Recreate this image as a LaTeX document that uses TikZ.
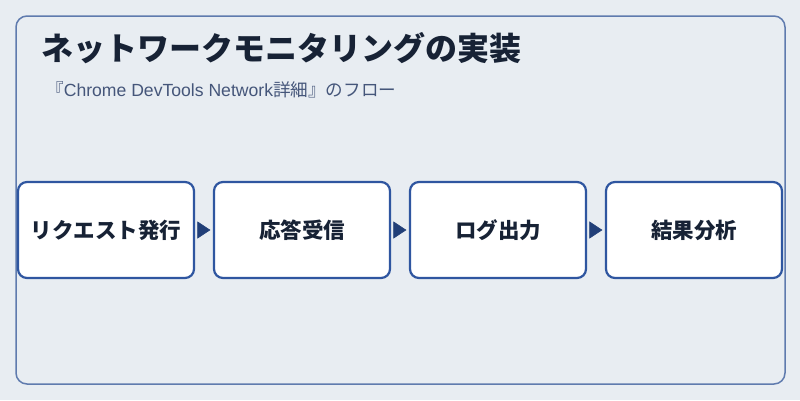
\documentclass[tikz,border=0pt]{standalone}
\usepackage{fontspec}
\setmainfont{Noto Sans CJK JP}
\newfontfamily\latinsans{Liberation Sans}
\usetikzlibrary{arrows.meta}
\definecolor{bgc}{HTML}{E8EDF2}
\definecolor{framec}{HTML}{5F7BAE}
\definecolor{boxc}{HTML}{2F56A0}
\definecolor{arrowc}{HTML}{213F78}
\definecolor{titlec}{HTML}{172235}
\definecolor{subc}{HTML}{45567A}
\tikzset{
  stepbox/.style={draw=boxc, line width=2.2pt, fill=white, rounded corners=9pt,
    minimum width=176pt, minimum height=96pt, inner sep=0pt,
    font=\fontsize{21.5}{25}\selectfont\bfseries, text=titlec},
  flow/.style={draw=arrowc, line width=0.6pt, -{Triangle[length=13pt,width=17pt]}, fill=arrowc, shorten >=2.5pt, shorten <=2.5pt}
}
\begin{document}
\begin{tikzpicture}[x=1pt,y=-1pt]
\fill[bgc] (0,0) rectangle (800,400);
\useasboundingbox (0,0) rectangle (800,400);
\draw[framec, line width=1.5pt, rounded corners=11pt] (16,16) rectangle (785,384);
\node[anchor=base west, inner sep=0pt, text=titlec, font=\fontsize{32}{36}\selectfont\bfseries] (title) at (41,60) {ネットワークモニタリングの実装};
\node[anchor=base west, inner sep=0pt, text=subc, font=\fontsize{17.6}{20}\selectfont] (sub) at (46,96) {『{\latinsans Chrome DevTools Network}詳細』のフロー};
\node[stepbox] (s1) at (106,230) {リクエスト発行};
\node[stepbox] (s2) at (302,230) {応答受信};
\node[stepbox] (s3) at (498,230) {ログ出力};
\node[stepbox] (s4) at (694,230) {結果分析};
\draw[flow] (s1) -- (s2);
\draw[flow] (s2) -- (s3);
\draw[flow] (s3) -- (s4);
\end{tikzpicture}
\end{document}
